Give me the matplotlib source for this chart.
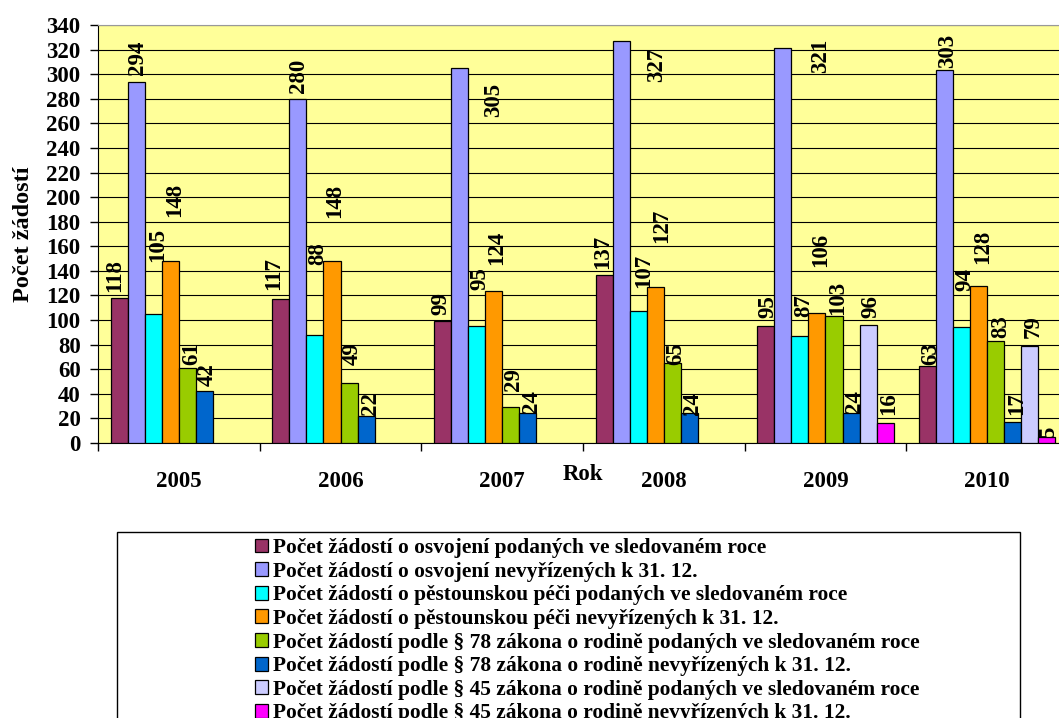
import numpy as np
import matplotlib
matplotlib.use("Agg")
import matplotlib.pyplot as plt
from matplotlib.patches import Rectangle

plt.rcParams['font.family'] = ['Liberation Serif', 'DejaVu Serif']
plt.rcParams['font.weight'] = 'bold'

years = ['2005', '2006', '2007', '2008', '2009', '2010']
nan = np.nan
osv_podane = [118, 117, 99, 137, 95, 63]
osv_nevyr = [294, 280, 305, 327, 321, 303]
pest_podane = [105, 88, 95, 107, 87, 94]
pest_nevyr = [148, 148, 124, 127, 106, 128]
p78_podane = [61, 49, 29, 65, 103, 83]
p78_nevyr = [42, 22, 24, 24, 24, 17]
p45_podane = [nan, nan, nan, nan, 96, 79]
p45_nevyr = [nan, nan, nan, nan, 16, 5]

series_labels = [
    "Počet žádostí o osvojení podaných ve sledovaném roce",
    "Počet žádostí o osvojení nevyřízených k 31. 12.",
    "Počet žádostí o pěstounskou péči podaných ve sledovaném roce",
    "Počet žádostí o pěstounskou péči nevyřízených k 31. 12.",
    "Počet žádostí podle § 78 zákona o rodině podaných ve sledovaném roce",
    "Počet žádostí podle § 78 zákona o rodině nevyřízených k 31. 12.",
    "Počet žádostí podle § 45 zákona o rodině podaných ve sledovaném roce",
    "Počet žádostí podle § 45 zákona o rodině nevyřízených k 31. 12.",
]
series = [osv_podane, osv_nevyr, pest_podane, pest_nevyr,
          p78_podane, p78_nevyr, p45_podane, p45_nevyr]
colors = ['#993366', '#9999FF', '#00FFFF', '#FF9900',
          '#99CC00', '#0066CC', '#CCCCFF', '#FF00FF']

# manual label nudges (pixels) per year, per series: dx right, dy up from bar top
label_dx = [
    [-7, -1, 2, 2, 2, 1, 0, 0],
    [-9, -1, 1, 1, 1, 2, 0, 0],
    [-4, 32, 1, 1, 1, 2, 0, 0],
    [-4, 33, 3, 4, 1, 1, 0, 0],
    [0, 36, 2, 2, 2, 1, 1, 2],
    [1, 1, 1, 2, 3, 2, 2, 0],
]
label_dy = [
    [6, 7, 52, 44, 3, 5, 0, 0],
    [9, 6, 70, 43, 18, 1, 0, 0],
    [6, -49, 36, 26, 16, 0, 0, 0],
    [6, -41, 23, 44, -2, -2, 0, 0],
    [8, -25, 19, 46, 1, 0, 7, 8],
    [1, 2, 36, 22, 3, 7, 8, -1],
]

W, H = 1059, 718
fig = plt.figure(figsize=(W / 100, H / 100), dpi=100)
ax = fig.add_axes([98 / W, (H - 443) / H, 970 / W, 418 / H])
ax.set_facecolor('#FFFF99')

n = len(series)
w = 1.0 / (n + 1.5)
x = np.arange(len(years))
handles = []
for j, (vals, col, lab) in enumerate(zip(series, colors, series_labels)):
    xs = x - 0.5 + 0.75 * w + w * (j + 0.5)
    b = ax.bar(xs, vals, width=w, color=col, edgecolor='black', linewidth=0.9,
               label=lab, zorder=3)
    handles.append(b)
    for i, v in enumerate(vals):
        if np.isnan(v):
            continue
        ax.annotate(f"{int(v)}", xy=(xs[i], v),
                    xytext=((label_dx[i][j] + 2) * 0.72, label_dy[i][j] * 0.72),
                    textcoords='offset points', rotation=90, ha='center',
                    va='bottom', fontsize=16.5, fontweight='bold', zorder=5,
                    annotation_clip=False)

ax.set_xlim(-0.5, len(years) - 0.5)
ax.set_ylim(0, 340)
ax.set_yticks(np.arange(0, 341, 20))
ax.tick_params(axis='y', direction='out', length=6, width=1, pad=6.5,
               labelsize=16.5)
ax.set_xticks(np.arange(-0.5, len(years), 1.0))
ax.set_xticklabels([])
ax.set_xticks(x, minor=True)
ax.set_xticklabels(years, minor=True, fontsize=16.5, fontweight='bold')
ax.tick_params(axis='x', which='major', direction='out', length=6, width=1)
ax.tick_params(axis='x', which='minor', length=0, pad=20)
for lab in ax.get_yticklabels():
    lab.set_fontweight('bold')

ax.yaxis.grid(True, color='black', linewidth=0.8, zorder=0)
ax.set_axisbelow(True)
ax.spines['right'].set_visible(False)
ax.spines['top'].set_color('#999999')
ax.spines['left'].set_color('black')
ax.spines['bottom'].set_color('black')

ax.set_xlabel('Rok', fontsize=16.5, fontweight='bold')
ax.xaxis.set_label_coords(0.5, -0.05)
ax.set_ylabel('Počet žádostí', fontsize=17.5, fontweight='bold')
ax.yaxis.set_label_coords(-0.066, 0.5)

# legend frame (extends beyond bottom of image)
fig.patches.append(Rectangle((117 / W, -0.05), (1020 - 117) / W,
                             (H - 532) / H + 0.05, transform=fig.transFigure,
                             facecolor='white', edgecolor='black',
                             linewidth=1, zorder=0))
fig.legend(handles=handles, loc='upper left',
           bbox_to_anchor=(255 / W, 1 - 538 / H), frameon=False,
           prop={'weight': 'bold', 'size': 15.4},
           handlelength=0.62, handleheight=0.62, handletextpad=0.22,
           labelspacing=0.17, borderpad=0, borderaxespad=0)

fig.savefig('out.png', dpi=100)
